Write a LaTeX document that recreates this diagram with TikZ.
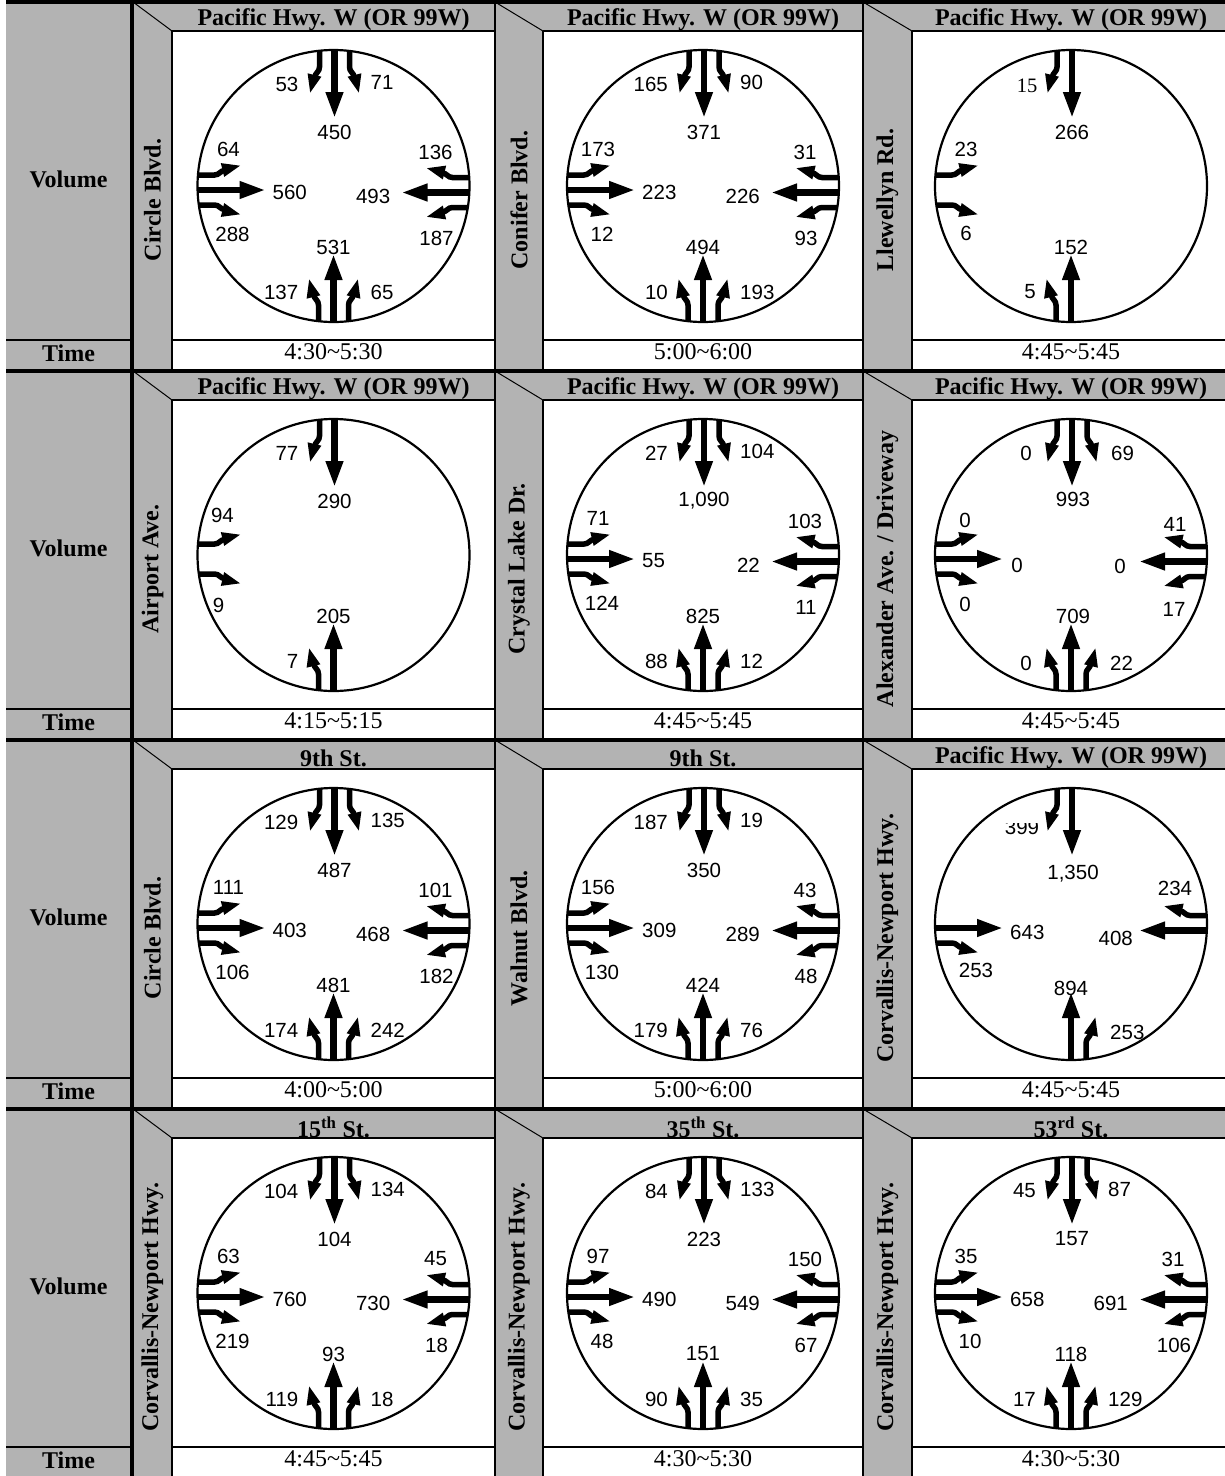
\documentclass[tikz,border=0pt]{standalone}
\usepackage{fontspec}
\setmainfont{Liberation Serif}
\newfontfamily\numfont{Liberation Sans}
\definecolor{cellgray}{RGB}{179,179,179}
\newcounter{nn}
\tikzset{
 thickrule/.style={line width=4pt},
 thinrule/.style={line width=2pt},
 diagrule/.style={line width=1pt},
 circ/.style={line width=2.2pt},
 hdr/.style={font=\fontsize{24}{28}\selectfont\bfseries, inner sep=0pt},
 tmtext/.style={font=\fontsize{24}{28}\selectfont, inner sep=0pt},
 striptext/.style={font=\fontsize{24}{28}\selectfont\bfseries, rotate=90, inner sep=0pt},
 numlab/.style={font=\numfont\fontsize{20.5}{24}\selectfont, inner sep=0pt},
 serlab/.style={font=\fontsize{20.5}{24}\selectfont, inner sep=0pt},
 thruline/.style={line width=6.8pt},
 turnline/.style={line width=5.5pt},
}
\newcommand\ThruArr[1]{%
 \pgfmathsetmacro\myTx{#1}%
 \pgfmathsetmacro\myYe{-136*sqrt(1-(\myTx/136)*(\myTx/136))}%
 \draw[thruline] (\myTx,\myYe) -- (\myTx,-91);
 \fill (\myTx-9.2,-94) -- (\myTx+9.2,-94) -- (\myTx,-69.5) -- cycle;}
\newcommand\TurnArr[2]{%
 \pgfmathsetmacro\myLx{#1}%
 \pgfmathsetmacro\myHx{#1+(#2)*5}%
 \pgfmathsetmacro\myCx{#1+(#2)*4}%
 \pgfmathsetmacro\myYe{-136*sqrt(1-(\myLx/136)*(\myLx/136))}%
 \pgfmathsetmacro\myAx{\myHx+6.9}\pgfmathsetmacro\myAy{-111-1.7*(#2)}%
 \pgfmathsetmacro\myBx{\myHx-6.9}\pgfmathsetmacro\myBy{-111+1.7*(#2)}%
 \pgfmathsetmacro\myPx{\myHx+4.3*(#2)}%
 \draw[turnline] (\myLx,\myYe) -- (\myLx,-119) .. controls (\myLx,-114) and (\myCx,-114) .. (\myHx,-108);
 \fill (\myAx,\myAy) -- (\myBx,\myBy) -- (\myPx,-93.5) -- cycle;}
\newcommand\Appr[5]{%
 \begin{scope}[rotate=#1]
 \ifnum#4=1 \ThruArr{#2}\fi
 \ifnum#3=1 \TurnArr{#2-15}{-1}\fi
 \ifnum#5=1 \TurnArr{#2+15}{1}\fi
 \end{scope}}
\newcommand\AllAppr{\Appr{0}{1}{1}{1}{1}\Appr{-90}{6.5}{1}{1}{1}\Appr{180}{0}{1}{1}{1}\Appr{90}{-4}{1}{1}{1}}
\newcommand\Lb[3][]{\stepcounter{nn}\node[numlab,#1] (n\thenn) at (#2) {#3};}
\newcommand\LabN[3]{\Lb[anchor=east]{-35,-102}{#1}\Lb[anchor=west]{37,-104}{#2}\Lb{1,-54}{#3}}
\newcommand\LabW[3]{\Lb{-105,-37}{#1}\Lb[anchor=west]{-61,6}{#2}\Lb{-101,48}{#3}}
\newcommand\LabE[3]{\Lb{102,-34}{#1}\Lb[anchor=east]{57,10}{#2}\Lb{103,52}{#3}}
\newcommand\LabS[3]{\Lb{0,61}{#1}\Lb[anchor=east]{-35,106}{#2}\Lb[anchor=west]{37,106}{#3}}
\newcommand\CellText[4]{%
 \stepcounter{nn}%
 \node[hdr] (h\thenn) at (0,-166) {#2};
 \node[tmtext] (t\thenn) at (0,166) {#4};
 \node[striptext] (s\thenn) at (#1,14) {#3};
 \draw[circ] (0,0) circle[radius=136];}
\begin{document}
\begin{tikzpicture}[x=1pt,y=-1pt]
\useasboundingbox (0,0) rectangle (1225,1476);
\clip (0,0) rectangle (1225,1476);
\fill[white] (0,0) rectangle (1225,1476);
\foreach \rt [count=\ri] in {0,369,738,1107}{
 \fill[cellgray] (6,\rt) rectangle (1230,\rt+369);
 \fill[white] (172,\rt+31) rectangle (495,\rt+369);
 \fill[white] (543,\rt+31) rectangle (863,\rt+369);
 \fill[white] (912,\rt+31) rectangle (1230,\rt+369);
 \draw[thinrule] (6,\rt+340) -- (132,\rt+340);
 \foreach \sl/\sr/\br in {133/172/495, 495/543/863, 863/912/1230}{
   \draw[thinrule] (\sr,\rt+31) -- (\br,\rt+31);
   \draw[thinrule] (\sr,\rt+340) -- (\br,\rt+340);
   \draw[thinrule] (\sr,\rt+31) -- (\sr,\rt+369);
   \draw[diagrule] (\sl,\rt+2) -- (\sr,\rt+31);
 }
 \draw[thinrule] (495,\rt) -- (495,\rt+369);
 \draw[thinrule] (863,\rt) -- (863,\rt+369);
 \draw[thickrule] (6,\rt+2) -- (1230,\rt+2);
 \node[hdr] (vol\ri) at (68.5,\rt+179) {Volume};
 \node[hdr] (time\ri) at (68.5,\rt+353) {Time};
}
\draw[thickrule] (132,0) -- (132,1476);

% ---------- Row 1 ----------
\begin{scope}[shift={(333.5,186)}]
 \CellText{-181}{Pacific Hwy. W (OR 99W)}{Circle Blvd.}{4:30\textasciitilde5:30}
 \AllAppr
 \LabN{53}{71}{450}\LabW{64}{560}{288}\LabE{136}{493}{187}\LabS{531}{137}{65}
\end{scope}
\begin{scope}[shift={(703,186)}]
 \CellText{-184}{Pacific Hwy. W (OR 99W)}{Conifer Blvd.}{5:00\textasciitilde6:00}
 \AllAppr
 \LabN{165}{90}{371}\LabW{173}{223}{12}\LabE{31}{226}{93}\LabS{494}{10}{193}
\end{scope}
\begin{scope}[shift={(1071,186)}]
 \CellText{-183.5}{Pacific Hwy. W (OR 99W)}{Llewellyn Rd.}{4:45\textasciitilde5:45}
 \Appr{0}{1}{1}{1}{0}\Appr{90}{-4}{1}{0}{1}\Appr{180}{0}{0}{1}{1}
 \node[serlab] (n15) at (-44,-100) {15};
 \Lb{1,-54}{266}\Lb{-105,-37}{23}\Lb{-105,47}{6}\Lb{0,61}{152}\Lb[anchor=east]{-35,106}{5}
\end{scope}

% ---------- Row 2 ----------
\begin{scope}[shift={(333.5,555)}]
 \CellText{-181}{Pacific Hwy. W (OR 99W)}{Airport Ave.}{4:15\textasciitilde5:15}
 \Appr{0}{1}{1}{1}{0}\Appr{90}{-4}{1}{0}{1}\Appr{180}{0}{0}{1}{1}
 \Lb[anchor=east]{-35,-102}{77}\Lb{1,-54}{290}\Lb{-111,-40}{94}\Lb{-115,50}{9}\Lb{0,61}{205}\Lb[anchor=east]{-35,106}{7}
\end{scope}
\begin{scope}[shift={(703,555)}]
 \CellText{-184}{Pacific Hwy. W (OR 99W)}{Crystal Lake Dr.}{4:45\textasciitilde5:45}
 \AllAppr
 \LabN{27}{104}{1,090}\LabW{71}{55}{124}\LabE{103}{22}{11}\LabS{825}{88}{12}
\end{scope}
\begin{scope}[shift={(1071,555)}]
 \CellText{-183.5}{Pacific Hwy. W (OR 99W)}{Alexander Ave. / Driveway}{4:45\textasciitilde5:45}
 \AllAppr
 \Lb{-45,-102}{0}\Lb[anchor=west]{40,-102}{69}\Lb{2,-56}{993}
 \Lb{-106,-35}{0}\Lb{-54,10}{0}\Lb{-106,49}{0}
 \Lb{104,-31}{41}\Lb{49,11}{0}\Lb{103,54}{17}
 \Lb{2,61}{709}\Lb{-45,108}{0}\Lb[anchor=west]{39,108}{22}
\end{scope}

% ---------- Row 3 ----------
\begin{scope}[shift={(333.5,924)}]
 \CellText{-181}{9th St.}{Circle Blvd.}{4:00\textasciitilde5:00}
 \AllAppr
 \LabN{129}{135}{487}\LabW{111}{403}{106}\LabE{101}{468}{182}\LabS{481}{174}{242}
\end{scope}
\begin{scope}[shift={(703,924)}]
 \CellText{-184}{9th St.}{Walnut Blvd.}{5:00\textasciitilde6:00}
 \AllAppr
 \LabN{187}{19}{350}\LabW{156}{309}{130}\LabE{43}{289}{48}\LabS{424}{179}{76}
\end{scope}
\begin{scope}[shift={(1071,924)}]
 \CellText{-183.5}{Pacific Hwy. W (OR 99W)}{Corvallis-Newport Hwy.}{4:45\textasciitilde5:45}
 \Appr{0}{1}{1}{1}{0}\Appr{-90}{6.5}{1}{1}{0}\Appr{90}{-4}{1}{1}{0}\Appr{180}{0}{1}{1}{0}
 \begin{scope}
  \clip (-80,-101) rectangle (-20,-80);
  \node[numlab] (n399) at (-49,-97) {399};
 \end{scope}
 \Lb{2,-50}{1,350}\Lb{104,-36}{234}\Lb[anchor=west]{-61,8}{643}\Lb[anchor=east]{62,14}{408}
 \Lb{-95,46}{253}\Lb{0,64}{894}\Lb[anchor=west]{39,108}{253}
\end{scope}

% ---------- Row 4 ----------
\begin{scope}[shift={(333.5,1293)}]
 \CellText{-181}{15\textsuperscript{th} St.}{Corvallis-Newport Hwy.}{4:45\textasciitilde5:45}
 \AllAppr
 \LabN{104}{134}{104}\LabW{63}{760}{219}\LabE{45}{730}{18}\LabS{93}{119}{18}
\end{scope}
\begin{scope}[shift={(703,1293)}]
 \CellText{-184}{35\textsuperscript{th} St.}{Corvallis-Newport Hwy.}{4:30\textasciitilde5:30}
 \AllAppr
 \LabN{84}{133}{223}\LabW{97}{490}{48}\LabE{150}{549}{67}\LabS{151}{90}{35}
\end{scope}
\begin{scope}[shift={(1071,1293)}]
 \CellText{-183.5}{53\textsuperscript{rd} St.}{Corvallis-Newport Hwy.}{4:30\textasciitilde5:30}
 \AllAppr
 \LabN{45}{87}{157}\LabW{35}{658}{10}\LabE{31}{691}{106}\LabS{118}{17}{129}
\end{scope}
\end{tikzpicture}
\end{document}
